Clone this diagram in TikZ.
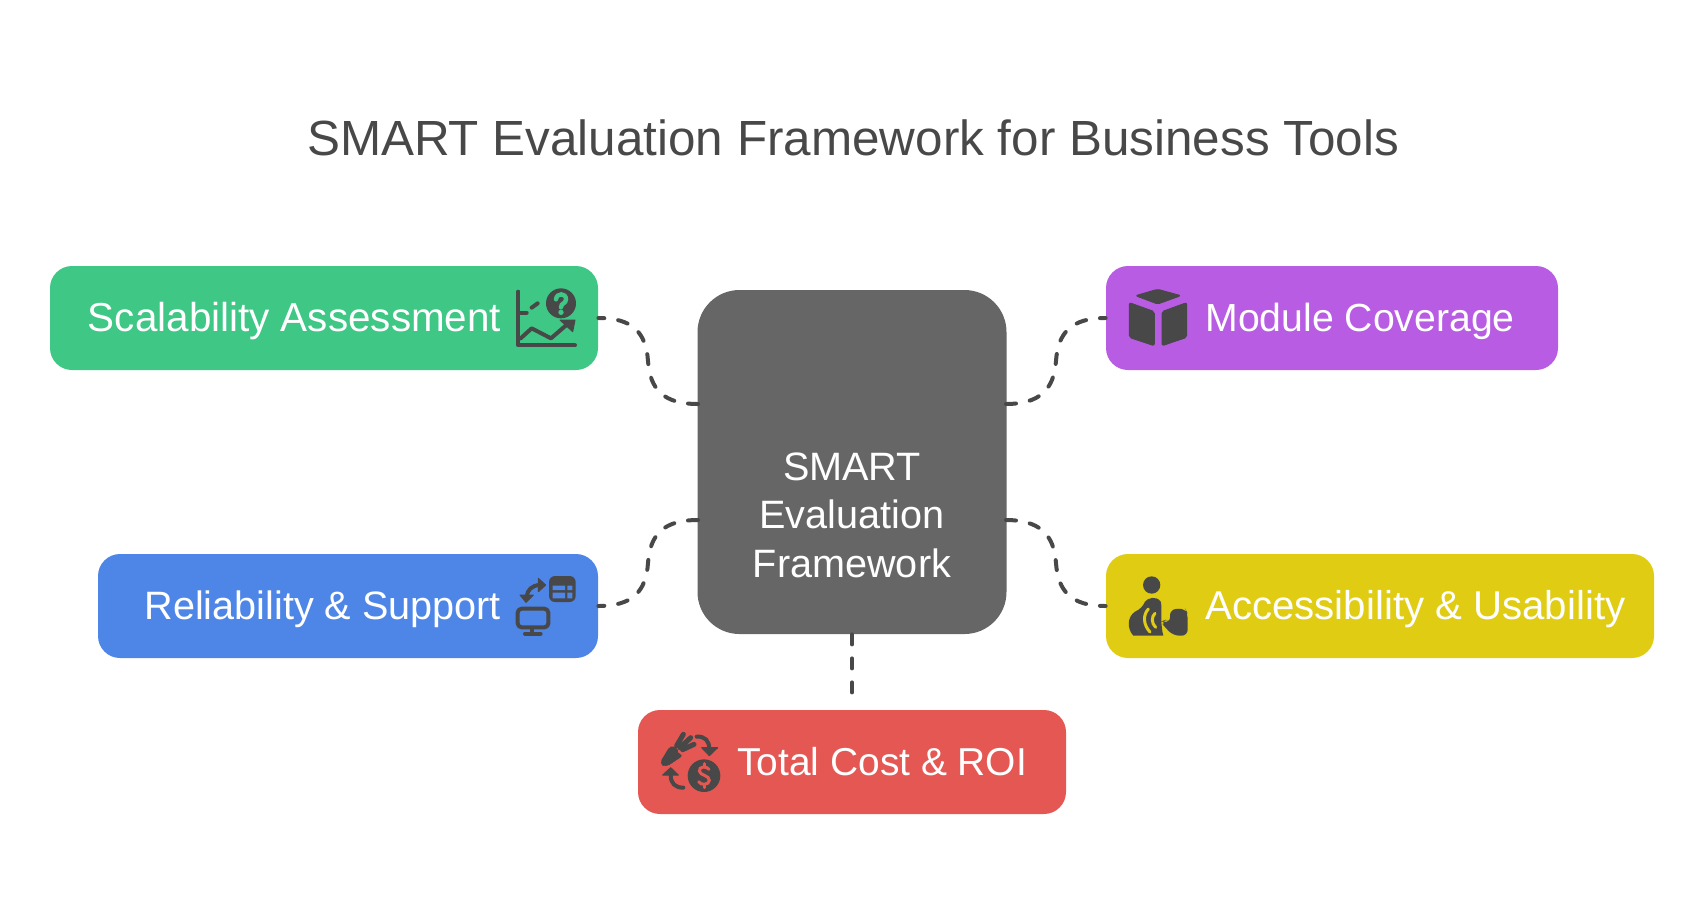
\documentclass[tikz,border=0pt]{standalone}
\usepackage{fontspec}
\setmainfont{Liberation Sans}
\usepackage{tikz}
\usetikzlibrary{calc}
\definecolor{inkgrey}{HTML}{484848}
\definecolor{hubgrey}{HTML}{666666}
\definecolor{scalegreen}{HTML}{3EC785}
\definecolor{relblue}{HTML}{4E86E8}
\definecolor{modpurple}{HTML}{B75CE3}
\definecolor{accyellow}{HTML}{E0CC12}
\definecolor{costred}{HTML}{E55753}
\tikzset{
        box/.style={rounded corners=11pt, inner sep=0pt, minimum height=52pt},
        boxlabel/.style={text=white, inner sep=0pt, font=\fontsize{#1}{24}\selectfont},
        link/.style={inkgrey, line width=2pt, line cap=round, dash pattern=on 5pt off 7pt},
        iconline/.style={inkgrey, line width=2pt, line cap=round, line join=round},
        iconfill/.style={fill=inkgrey, draw=inkgrey, line width=.5pt, line join=round}
}

\begin{document}
\begin{tikzpicture}[x=0.5pt, y=-0.5pt]
        \useasboundingbox (0, 0) rectangle (1704, 912);

        \node[inkgrey, inner sep=0pt, anchor=base, font=\fontsize{24.7}{30}\selectfont] (title) at (853, 155) {SMART Evaluation Framework for Business Tools};

        \node[fill=hubgrey, rounded corners=21pt, inner sep=0pt, minimum width=154.5pt, minimum height=172pt] (hub) at (852, 462) {};
        \node[box, fill=scalegreen, minimum width=274pt] (scale) at (324, 318) {};
        \node[box, fill=relblue, minimum width=250pt] (rel) at (348, 606) {};
        \node[box, fill=modpurple, minimum width=226pt] (mod) at (1332, 318) {};
        \node[box, fill=accyellow, minimum width=274pt] (acc) at (1380, 606) {};
        \node[box, fill=costred, minimum width=214pt] (cost) at (852, 762) {};

        \node[boxlabel=20.2, anchor=base east] (scaletext) at (501.5, 331) {Scalability Assessment};
        \node[boxlabel=19.8, anchor=base east] (reltext) at (501.5, 619) {Reliability \& Support};
        \node[boxlabel=19.6, anchor=base west] (modtext) at (1205, 331) {Module Coverage};
        \node[boxlabel=20.1, anchor=base west] (acctext) at (1205, 619) {Accessibility \& Usability};
        \node[boxlabel=19.45, anchor=base west] (costtext) at (737, 775) {Total Cost \& ROI};
        \node[text=white, inner sep=0pt, align=center, font=\fontsize{19.8}{24.25}\selectfont] (hubtext) at (852, 515) {SMART\\Evaluation\\Framework};

        \coordinate (hubtl) at (698, 404);
        \coordinate (hubbl) at (698, 520);
        \coordinate (hubtr) at (1006, 404);
        \coordinate (hubbr) at (1006, 520);
        \coordinate (costtop) at (852, 696);

        \draw[link] (hubtl) .. controls (664, 404) and (650, 390) .. (648, 361) .. controls (646, 332) and (632, 318) .. (scale.east);
        \draw[link] (hubbl) .. controls (664, 520) and (650, 534) .. (648, 563) .. controls (646, 592) and (632, 606) .. (rel.east);
        \draw[link] (hubtr) .. controls (1039, 404) and (1054, 390) .. (1056, 361) .. controls (1058, 332) and (1072, 318) .. (mod.west);
        \draw[link] (hubbr) .. controls (1039, 520) and (1054, 534) .. (1056, 563) .. controls (1058, 592) and (1072, 606) .. (acc.west);
        \draw[link] (hub.south) -- (costtop);

        \begin{scope}[shift={(500, 270)}, scale=1/3]
                \draw[iconline] (55, 65) -- (55, 226) -- (225, 226);
                \draw[iconline] (60, 128) -- (80, 128);
                \draw[iconline] (95, 113) -- (113, 100);
                \draw[iconline] (62, 205) -- (95, 175) -- (153, 205) -- (205, 160);
                \filldraw[iconfill] (180, 150) -- (225, 150) -- (218, 185) -- cycle;
                \fill[inkgrey] (183, 100) circle [radius=45];
                \draw[scalegreen, line width=2.2pt, line cap=round] (168, 88) .. controls (170, 68) and (198, 68) .. (198, 88) .. controls (198, 102) and (183, 98) .. (183, 112);
                \fill[scalegreen] (183, 127) circle [radius=8];
        \end{scope}

        \begin{scope}[shift={(510, 570)}, scale=1/3]
                \fill[inkgrey, rounded corners=3pt] (117, 18) rectangle (197, 96);
                \fill[relblue] (128, 47) rectangle (165, 60) (172, 47) rectangle (187, 60) (128, 68) rectangle (165, 85) (172, 68) rectangle (187, 85);
                \draw[iconline, rounded corners=2pt] (23, 116) rectangle (115, 172);
                \draw[iconline] (67, 175) -- (67, 190) (45, 191) -- (92, 191);
                \draw[iconline] (50, 80) .. controls (52, 60) and (65, 47) .. (88, 45);
                \filldraw[iconfill] (30, 75) -- (70, 75) -- (48, 97) -- cycle;
                \filldraw[iconfill] (85, 25) -- (107, 45) -- (85, 65) -- cycle;
        \end{scope}

        \begin{scope}[shift={(1120, 280)}, scale=1/3]
                \filldraw[iconfill, rounded corners=1pt] (47, 47) -- (113, 28) -- (182, 47) -- (113, 72) -- cycle;
                \filldraw[iconfill, rounded corners=1pt] (28, 68) -- (103, 95) -- (103, 197) -- (28, 172) -- cycle;
                \filldraw[iconfill, rounded corners=1pt] (200, 68) -- (126, 95) -- (126, 197) -- (200, 172) -- cycle;
        \end{scope}

        \begin{scope}[shift={(1120, 570)}, scale=1/3]
                \fill[inkgrey] (95, 45) circle [radius=26];
                \fill[inkgrey] (75, 95) .. controls (82, 84) and (110, 76) .. (122, 95) .. controls (128, 110) and (118, 150) .. (130, 197) -- (40, 197) .. controls (20, 175) and (22, 140) .. (45, 125) .. controls (60, 118) and (68, 110) .. (75, 95) -- cycle;
                \draw[accyellow, line width=1.5pt, line cap=round] (85, 117) .. controls (68, 135) and (70, 165) .. (90, 186);
                \draw[accyellow, line width=1.5pt, line cap=round] (105, 130) .. controls (94, 140) and (94, 160) .. (107, 172);
                \fill[inkgrey, rounded corners=3pt] (150, 118) -- (195, 115) -- (203, 130) -- (203, 197) -- (160, 197) -- (135, 172) -- (122, 155) -- (135, 150) -- (150, 160) -- cycle;
        \end{scope}

        \begin{scope}[shift={(650, 725)}, scale=1/3]
                \filldraw[iconfill, rounded corners=2pt] (30, 115) -- (62, 62) -- (84, 70) -- (78, 86) -- (100, 90) -- (47, 125) -- cycle;
                \draw[iconline, line width=2.5pt] (80, 62) -- (100, 28) (90, 68) -- (122, 38) (98, 74) -- (132, 58);
                \draw[iconline] (140, 35) .. controls (165, 33) and (178, 48) .. (178, 72);
                \filldraw[iconfill] (155, 68) -- (203, 68) -- (178, 92) -- cycle;
                \draw[iconline] (100, 188) .. controls (75, 188) and (62, 175) .. (62, 150);
                \filldraw[iconfill] (38, 150) -- (85, 150) -- (62, 128) -- cycle;
                \fill[inkgrey] (162, 152) circle [radius=49];
                \draw[costred, line width=1.5pt, line cap=round] (177, 133) .. controls (170, 122) and (146, 124) .. (148, 138) .. controls (150, 152) and (178, 150) .. (178, 166) .. controls (178, 180) and (152, 182) .. (146, 170);
                \draw[costred, line width=1.5pt, line cap=round] (162, 116) -- (162, 126) (162, 180) -- (162, 188);
        \end{scope}
\end{tikzpicture}
\end{document}
